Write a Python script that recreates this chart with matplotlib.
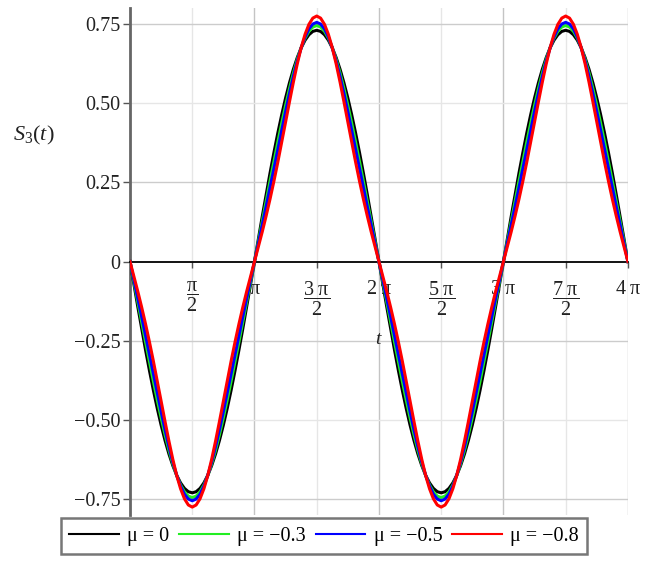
import numpy as np
import matplotlib

matplotlib.use("Agg")
import matplotlib.pyplot as plt
from matplotlib.lines import Line2D

# quarter-wave readings of |S3(t)| at t = k*pi/32, k = 0..16 (curves are odd/symmetric)
QUARTER_STEP = np.pi / 32
mu_values = ["0", "\u22120.3", "\u22120.5", "\u22120.8"]
s3_mu0 = [0.0, 0.0716, 0.1424, 0.2119, 0.2794, 0.3441, 0.4056, 0.4631, 0.5162,
          0.5643, 0.6070, 0.6438, 0.6744, 0.6986, 0.7160, 0.7265, 0.730]
s3_mu03 = [0.0, 0.0637, 0.1273, 0.1907, 0.2537, 0.3160, 0.3770, 0.4362, 0.4929,
           0.5460, 0.5948, 0.6382, 0.6753, 0.7052, 0.7271, 0.7405, 0.745]
s3_mu05 = [0.0, 0.0575, 0.1154, 0.1740, 0.2334, 0.2936, 0.3542, 0.4145, 0.4738,
           0.5307, 0.5841, 0.6325, 0.6745, 0.7088, 0.7342, 0.7497, 0.755]
s3_mu08 = [0.0, 0.0465, 0.0941, 0.1442, 0.1973, 0.2539, 0.3138, 0.3764, 0.4405,
           0.5045, 0.5664, 0.6239, 0.6749, 0.7171, 0.7488, 0.7684, 0.775]
colors = ["#000000", "#22ee22", "#0000ff", "#ff0000"]

x_ticks = [k * np.pi / 2 for k in range(1, 9)]
x_ticklabels = [
    r"$\dfrac{\mathrm{\pi}}{2}$", r"$\mathrm{\pi}$", r"$\dfrac{3\ \mathrm{\pi}}{2}$", r"$2\ \mathrm{\pi}$",
    r"$\dfrac{5\ \mathrm{\pi}}{2}$", r"$3\ \mathrm{\pi}$", r"$\dfrac{7\ \mathrm{\pi}}{2}$", r"$4\ \mathrm{\pi}$",
]
y_ticks = [-0.75, -0.5, -0.25, 0, 0.25, 0.5, 0.75]
y_ticklabels = ["\u22120.75", "\u22120.50", "\u22120.25", "0", "0.25", "0.50", "0.75"]


def full_curve(quarter):
    q = np.asarray(quarter)
    half = np.concatenate([q, q[-2::-1]])          # 0 .. pi
    period = np.concatenate([-half, half[1:]])     # 0 .. 2 pi (negative lobe first)
    return np.concatenate([period, period[1:]])    # 0 .. 4 pi


plt.rcParams.update({
    "font.family": "Liberation Serif",
    "mathtext.fontset": "custom",
    "mathtext.rm": "Liberation Serif",
    "mathtext.it": "Liberation Serif:italic",
    "mathtext.bf": "Liberation Serif:bold",
})

fig = plt.figure(figsize=(6.5, 5.67), dpi=100)
ax = fig.add_axes([0.2, 0.0917, 0.766, 0.894])

series = [s3_mu0, s3_mu03, s3_mu05, s3_mu08]
for quarter, color in zip(series, colors):
    y = full_curve(quarter)
    t = np.arange(len(y)) * QUARTER_STEP
    ax.plot(t, y, color=color, lw=2.2, solid_joinstyle="round", zorder=3)

ax.set_xlim(0, 4 * np.pi)
ax.set_ylim(-0.8, 0.8)

# grid: darker at integer pi / odd quarters, lighter elsewhere
for k, xv in enumerate(x_ticks):
    ax.axvline(xv, color="#c4c4c4" if k % 2 else "#e6e6e6", lw=1.0, zorder=1)
for yv in y_ticks:
    if yv == 0:
        continue
    ax.axhline(yv, color="#e6e6e6" if abs(yv) == 0.5 else "#cccccc", lw=1.0, zorder=1)

for side in ["top", "right"]:
    ax.spines[side].set_visible(False)
ax.spines["bottom"].set_position(("data", 0))
ax.spines["bottom"].set_color("#000000")
ax.spines["bottom"].set_linewidth(1.3)
ax.spines["left"].set_color("#666666")
ax.spines["left"].set_linewidth(2.0)

ax.set_xticks(x_ticks)
ax.set_xticklabels(x_ticklabels, fontsize=14.5)
ax.set_yticks(y_ticks)
ax.set_yticklabels(y_ticklabels, fontsize=14.5)
ax.tick_params(axis="x", direction="out", length=4, width=1, colors="#555555", pad=9, labelcolor="#222222")
ax.tick_params(axis="y", direction="out", length=5, width=1, colors="#555555", pad=2, labelcolor="#222222")

ax.text(2 * np.pi - 0.04, -0.245, "t", style="italic", fontsize=14, ha="center", va="center", color="#222222")
fig.text(34 / 650, 1 - 135 / 567, r"$S_3(t)$", fontsize=16, ha="center", va="center", color="#222222")

handles = [Line2D([], [], color=c, lw=1.5) for c in colors]
labels = [f"\u03bc = {m}" for m in mu_values]
leg = fig.legend(handles, labels, loc="center", bbox_to_anchor=(324 / 650, 1 - 536 / 567), ncol=4,
                 fontsize=14.5, handlelength=2.45, handletextpad=0.42, columnspacing=0.5,
                 frameon=True, fancybox=False, borderpad=0.4)
leg.get_frame().set_edgecolor("#555555")
leg.get_frame().set_linewidth(1.8)

fig.savefig("out.png", dpi=100)
